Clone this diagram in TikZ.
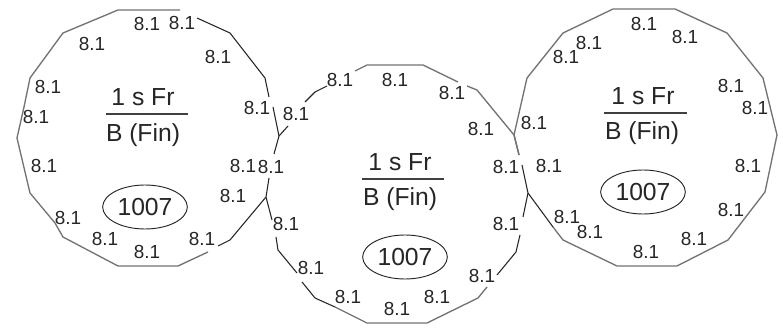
\documentclass[tikz,border=0pt]{standalone}
\usepackage{fontspec}
\setmainfont{Liberation Sans}
\usetikzlibrary{shapes.geometric}
\tikzset{
  lbl/.style={inner sep=0pt,text=black!85,font=\fontsize{14.2}{16}\selectfont},
  big/.style={inner sep=0pt,text=black!85,font=\fontsize{18.5}{21}\selectfont},
  tag/.style={draw=black!85,ellipse,line width=0.7pt,minimum width=63.5pt,minimum height=33pt,inner sep=0pt,text=black!85,font=\fontsize{18.5}{21}\selectfont},
  darkline/.style={draw=black!85,line width=0.8pt,line join=round},
  greyline/.style={draw=black!55,line width=1pt,line join=round},
  barline/.style={draw=black!75,line width=0.8pt}
}
\begin{document}
\begin{tikzpicture}[x=0.75pt,y=-0.75pt]
\useasboundingbox (0,0) rectangle (783,328);
\fill[white] (0,0) rectangle (783,328);
% left polygon
\draw[greyline] (208,252) -- (178,266) -- (118,266) -- (63,237) -- (55,223) -- (30,193) -- (17,138) -- (24,107) -- (30,78) -- (63,33) -- (118,10) -- (180,10);
\draw[darkline] (197,18) -- (230,33) -- (265,78) -- (269,97);
\draw[darkline] (273,107) -- (279,136) -- (274,154);
\draw[darkline] (269,178) -- (266,197) -- (230,240) -- (218,246);
% middle polygon
\draw[darkline] (279,136) -- (288,126);
\draw[darkline] (305,102) -- (315,92) -- (327,86);
\draw[greyline] (355,71) -- (367,65) -- (423,65) -- (458,82);
\draw[greyline] (467,86) -- (477,90) -- (514,135) -- (519,155);
\draw[darkline] (522,165) -- (528,193) -- (523,217);
\draw[darkline] (520,235) -- (516,252) -- (497,275);
\draw[greyline] (487,287) -- (478,298) -- (427,323) -- (367,323) -- (335,307);
\draw[darkline] (335,307) -- (315,298) -- (302,282);
\draw[darkline] (297,273) -- (278,250) -- (276,237);
\draw[darkline] (272,220) -- (266,197);
% right polygon
\draw[greyline] (519,155) -- (514,135) -- (527,78) -- (563,33) -- (613,9) -- (675,9) -- (727,33) -- (763,78) -- (777,135) -- (765,192) -- (728,240) -- (677,266) -- (617,266) -- (563,240) -- (553,227);
\draw[darkline] (553,227) -- (528,193);
% left labels
\node[lbl] (a1) at (147,24) {8.1};
\node[lbl] (a2) at (182,23) {8.1};
\node[lbl] (a3) at (92,44) {8.1};
\node[lbl] (a4) at (218,57) {8.1};
\node[lbl] (a5) at (48,87) {8.1};
\node[lbl] (a6) at (36,117) {8.1};
\node[lbl] (a7) at (257,108) {8.1};
\node[lbl] (a8) at (44,166) {8.1};
\node[lbl] (a9) at (243,166) {8.1};
\node[lbl] (a10) at (233,196) {8.1};
\node[lbl] (a11) at (68,218) {8.1};
\node[lbl] (a12) at (105,239) {8.1};
\node[lbl] (a13) at (202,239) {8.1};
\node[lbl] (a14) at (147,252) {8.1};
\node[big] (af) at (143,97) {1 s Fr};
\node[big] (ab) at (143,135) {B (Fin)};
\coordinate (afl) at (106,114); \coordinate (afr) at (188,114);
\draw[barline] (afl) -- (afr);
\node[tag] (ae) at (145,207) {1007};
% middle labels
\node[lbl] (b1) at (340,80) {8.1};
\node[lbl] (b2) at (395,80) {8.1};
\node[lbl] (b3) at (452,93) {8.1};
\node[lbl] (b4) at (296,114) {8.1};
\node[lbl] (b5) at (481,129) {8.1};
\node[lbl] (b6) at (271,167) {8.1};
\node[lbl] (b7) at (506,167) {8.1};
\node[lbl] (b8) at (286,224) {8.1};
\node[lbl] (b9) at (506,224) {8.1};
\node[lbl] (b10) at (311,268) {8.1};
\node[lbl] (b11) at (482,276) {8.1};
\node[lbl] (b12) at (348,297) {8.1};
\node[lbl] (b13) at (437,297) {8.1};
\node[lbl] (b14) at (397,309) {8.1};
\node[big] (bf) at (400,162) {1 s Fr};
\node[big] (bb) at (400,199) {B (Fin)};
\coordinate (bfl) at (362,179); \coordinate (bfr) at (444,179);
\draw[barline] (bfl) -- (bfr);
\node[tag] (be) at (405,257) {1007};
% right labels
\node[lbl] (c1) at (644,24) {8.1};
\node[lbl] (c2) at (685,37) {8.1};
\node[lbl] (c3) at (589,43) {8.1};
\node[lbl] (c4) at (566,57) {8.1};
\node[lbl] (c5) at (731,86) {8.1};
\node[lbl] (c6) at (755,108) {8.1};
\node[lbl] (c7) at (534,123) {8.1};
\node[lbl] (c8) at (549,166) {8.1};
\node[lbl] (c9) at (748,166) {8.1};
\node[lbl] (c10) at (731,210) {8.1};
\node[lbl] (c11) at (567,217) {8.1};
\node[lbl] (c12) at (590,232) {8.1};
\node[lbl] (c13) at (694,239) {8.1};
\node[lbl] (c14) at (646,252) {8.1};
\node[big] (cf) at (643,96) {1 s Fr};
\node[big] (cb) at (642,133) {B (Fin)};
\coordinate (cfl) at (604,113); \coordinate (cfr) at (687,113);
\draw[barline] (cfl) -- (cfr);
\node[tag] (ce) at (643,192) {1007};
\end{tikzpicture}
\end{document}
